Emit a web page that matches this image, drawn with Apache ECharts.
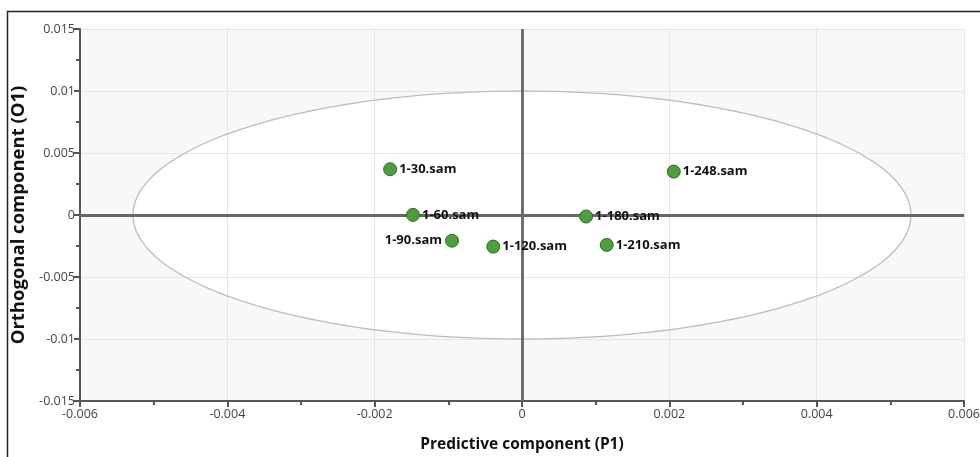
<!DOCTYPE html>
<html>
<head>
<meta charset="utf-8">
<script src="https://cdn.jsdelivr.net/npm/echarts@6/dist/echarts.min.js"></script>
<style>html,body{margin:0;padding:0;background:#fff}#c{width:980px;height:457px}</style>
</head>
<body>
<div id="c"></div>
<script>
// ---- data ----
const sampleNames = ['1-30.sam', '1-60.sam', '1-90.sam', '1-120.sam', '1-180.sam', '1-210.sam', '1-248.sam'];
const predictiveP1 = [-0.00179, -0.00148, -0.00095, -0.00039, 0.00087, 0.00115, 0.00206];
const orthogonalO1 = [0.00369, 0.00001, -0.00207, -0.00255, -0.00012, -0.00241, 0.00350];
const xTicks = [-0.006, -0.004, -0.002, 0, 0.002, 0.004, 0.006];
const yTicks = [-0.015, -0.01, -0.005, 0, 0.005, 0.01, 0.015];
const ellipseSemiX = 0.00528;
const ellipseSemiY = 0.0100;
const xTitle = 'Predictive component (P1)';
const yTitle = 'Orthogonal component (O1)';
const leftLabelSamples = ['1-90.sam'];

const fmt = v => String(parseFloat(Number(v).toFixed(5)));

const chart = echarts.init(document.getElementById('c'), null, {renderer: 'canvas'});

const points = sampleNames.map((n, i) => {
  const item = {name: n, value: [predictiveP1[i], orthogonalO1[i]]};
  if (leftLabelSamples.includes(n)) item.label = {position: 'left', distance: 3};
  return item;
});

function ellipsePoints(api) {
  const pts = [];
  for (let k = 0; k <= 240; k++) {
    const t = k / 240 * Math.PI * 2;
    pts.push(api.coord([ellipseSemiX * Math.cos(t), ellipseSemiY * Math.sin(t)]));
  }
  return pts;
}

const option = {
  animation: false,
  backgroundColor: '#ffffff',
  graphic: [{
    type: 'rect', silent: true, z: 100,
    shape: {x: 7.5, y: 11.5, width: 1000, height: 500},
    style: {fill: 'none', stroke: '#222', lineWidth: 1.5}
  }],
  grid: {left: 80, right: 16, top: 29, bottom: 56, containLabel: false, outerBoundsMode: 'none'},
  xAxis: {
    type: 'value', min: xTicks[0], max: xTicks[xTicks.length - 1], interval: 0.002,
    name: xTitle, nameLocation: 'middle', nameGap: 36,
    nameTextStyle: {fontFamily: 'Open Sans', fontWeight: 'bold', fontSize: 15.5, color: '#111'},
    axisLine: {show: true, onZero: false, lineStyle: {color: '#555', width: 2}},
    axisTick: {show: true, length: 6, lineStyle: {color: '#555', width: 2}},
    minorTick: {show: true, splitNumber: 2, length: 4, lineStyle: {color: '#555', width: 2}},
    axisLabel: {formatter: fmt, fontFamily: 'Open Sans', fontSize: 12.5, color: '#444', margin: 7},
    splitLine: {show: true, lineStyle: {color: '#e6e6e6', width: 1}}
  },
  yAxis: {
    type: 'value', min: yTicks[0], max: yTicks[yTicks.length - 1], interval: 0.005,
    name: yTitle, nameLocation: 'middle', nameGap: 42,
    nameTextStyle: {fontFamily: 'Open Sans', fontWeight: 'bold', fontSize: 18.5, color: '#111'},
    axisLine: {show: true, onZero: false, lineStyle: {color: '#555', width: 2}},
    axisTick: {show: true, length: 6, lineStyle: {color: '#555', width: 2}},
    minorTick: {show: true, splitNumber: 2, length: 4, lineStyle: {color: '#555', width: 2}},
    axisLabel: {formatter: fmt, fontFamily: 'Open Sans', fontSize: 12.5, color: '#444', margin: 5},
    splitLine: {show: true, lineStyle: {color: '#e6e6e6', width: 1}}
  },
  series: [
    {
      type: 'custom', z: -10, silent: true,
      data: [[0, 0]],
      renderItem: function (params, api) {
        const cs = params.coordSys;
        return {
          type: 'group',
          children: [
            {type: 'rect', shape: {x: cs.x, y: cs.y, width: cs.width, height: cs.height},
             style: {fill: '#f7f8fa', stroke: null}},
            {type: 'polygon', shape: {points: ellipsePoints(api)},
             style: {fill: '#ffffff', stroke: null}}
          ]
        };
      }
    },
    {
      type: 'custom', z: 1, silent: true,
      data: [[0, 0]],
      renderItem: function (params, api) {
        return {type: 'polygon', shape: {points: ellipsePoints(api)},
                style: {fill: 'none', stroke: '#bdbdbd', lineWidth: 1.3}};
      }
    },
    {
      type: 'scatter', z: 3,
      data: points,
      symbol: 'circle', symbolSize: 13,
      itemStyle: {color: '#4d9e3d', borderColor: '#2f6d24', borderWidth: 1, opacity: 1},
      label: {
        show: true, position: 'right', distance: 2,
        formatter: p => p.name,
        fontFamily: 'Open Sans', fontWeight: 'bold', fontSize: 13, color: '#111'
      },
      markLine: {
        silent: true, symbol: ['none', 'none'], z: 2,
        label: {show: false},
        lineStyle: {color: '#666', width: 2.8, type: 'solid'},
        data: [{xAxis: 0}, {yAxis: 0}]
      }
    }
  ]
};
chart.setOption(option);
</script>
</body>
</html>
